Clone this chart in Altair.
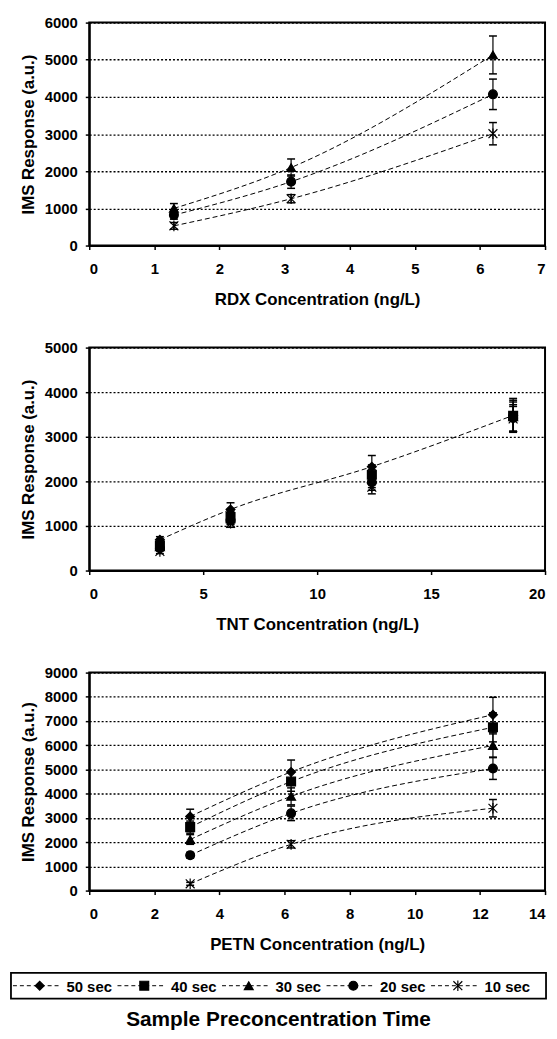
import altair as alt
import pandas as pd

# ---------------- data ----------------
series_names = ["50 sec", "40 sec", "30 sec", "20 sec", "10 sec"]

rdx_conc = [1.3, 3.1, 6.2]
rdx_30 = [1000, 2100, 5130]
rdx_30_err = [130, 230, 510]
rdx_20 = [820, 1720, 4070]
rdx_20_err = [110, 180, 410]
rdx_10 = [530, 1260, 3010]
rdx_10_err = [90, 110, 300]

tnt_conc = [3.1, 6.2, 12.4, 18.6]
tnt_50 = [690, 1370, 2330, 3480]
tnt_50_err = [70, 150, 250, 380]
tnt_40 = [560, 1200, 2150, 3470]
tnt_40_err = [60, 120, 220, 350]
tnt_30 = [530, 1160, 2060, 3450]
tnt_30_err = [60, 110, 200, 330]
tnt_20 = [500, 1130, 1980, 3420]
tnt_20_err = [50, 100, 180, 300]
tnt_10 = [430, 1060, 1870, 3400]
tnt_10_err = [50, 90, 150, 280]

petn_conc = [3.1, 6.2, 12.4]
petn_50 = [3060, 4900, 7260]
petn_50_err = [300, 490, 720]
petn_40 = [2620, 4500, 6740]
petn_40_err = [250, 400, 600]
petn_30 = [2110, 3890, 5990]
petn_30_err = [200, 350, 480]
petn_20 = [1460, 3190, 5040]
petn_20_err = [120, 300, 450]
petn_10 = [280, 1910, 3400]
petn_10_err = [60, 150, 360]

rdx_series = {"30 sec": (rdx_30, rdx_30_err), "20 sec": (rdx_20, rdx_20_err),
              "10 sec": (rdx_10, rdx_10_err)}
tnt_series = {"50 sec": (tnt_50, tnt_50_err), "40 sec": (tnt_40, tnt_40_err),
              "30 sec": (tnt_30, tnt_30_err), "20 sec": (tnt_20, tnt_20_err),
              "10 sec": (tnt_10, tnt_10_err)}
petn_series = {"50 sec": (petn_50, petn_50_err), "40 sec": (petn_40, petn_40_err),
               "30 sec": (petn_30, petn_30_err), "20 sec": (petn_20, petn_20_err),
               "10 sec": (petn_10, petn_10_err)}

rdx_lines = ["30 sec", "20 sec", "10 sec"]
tnt_lines = ["50 sec"]
petn_lines = series_names

# ---------------- styles ----------------
FONT = "Liberation Sans"
STAR = "M-1,-1L1,1M-1,1L1,-1M0,-1.2L0,1.2"
marker_shapes = ["diamond", "square", "triangle-up", "circle", STAR]
PLOT_W = 460


def make_df(conc, series):
    rows = []
    for name, (vals, errs) in series.items():
        for c, v, e in zip(conc, vals, errs):
            rows.append({"series": name, "conc": c, "resp": v,
                         "lo": v - e, "hi": v + e})
    return pd.DataFrame(rows)


def shape_enc():
    return alt.Shape("series:N",
                     scale=alt.Scale(domain=series_names, range=marker_shapes),
                     legend=None)


def panel(df, xmax, xstep, ymax, xtitle, line_series, h):
    xaxis = alt.Axis(values=list(range(0, xmax + 1, xstep)), title=xtitle,
                     grid=False, tickSize=4, labelPadding=12, titlePadding=15,
                     format="d")
    yaxis = alt.Axis(values=list(range(0, ymax + 1, 1000)),
                     title="IMS Response (a.u.)", grid=True, gridDash=[2, 2],
                     gridColor="black", gridWidth=1.3, tickSize=4,
                     labelPadding=8, titlePadding=7, format="d")
    x = alt.X("conc:Q", scale=alt.Scale(domain=[0, xmax], nice=False), axis=xaxis)
    ys = alt.Scale(domain=[0, ymax], nice=False)
    base = alt.Chart(df)
    lines = base.transform_filter(
        alt.FieldOneOfPredicate(field="series", oneOf=line_series)
    ).mark_line(strokeDash=[5, 3], color="black", strokeWidth=1,
                interpolate="monotone").encode(
        x=x, y=alt.Y("resp:Q", scale=ys, axis=yaxis), detail="series:N")
    err = base.mark_rule(color="black", strokeWidth=1.2).encode(
        x=x, y=alt.Y("lo:Q", scale=ys, axis=yaxis), y2="hi:Q")
    cap_hi = base.mark_tick(orient="horizontal", size=8, thickness=1.5,
                            color="black", opacity=1).encode(
        x=x, y=alt.Y("hi:Q", scale=ys, axis=yaxis))
    cap_lo = base.mark_tick(orient="horizontal", size=8, thickness=1.5,
                            color="black", opacity=1).encode(
        x=x, y=alt.Y("lo:Q", scale=ys, axis=yaxis))
    pts = base.mark_point(fill="black", stroke="black", strokeWidth=1.2,
                          opacity=1, fillOpacity=1, size=80).encode(
        x=x, y=alt.Y("resp:Q", scale=ys, axis=yaxis), shape=shape_enc())
    return alt.layer(lines, err, pts, cap_hi, cap_lo).properties(width=PLOT_W, height=h)


rdx = panel(make_df(rdx_conc, rdx_series), 7, 1, 6000,
            "RDX Concentration (ng/L)", rdx_lines, 225)
tnt = panel(make_df(tnt_conc, tnt_series), 20, 5, 5000,
            "TNT Concentration (ng/L)", tnt_lines, 225)
petn = panel(make_df(petn_conc, petn_series), 14, 2, 9000,
             "PETN Concentration (ng/L)", petn_lines, 220)

# ---------------- legend (strip aligned with the plots, frame spans full width) ----------------
LEG_LEFT = -79
LEG_RIGHT = PLOT_W + 1
LEG_TOP = -20
LEG_BOTTOM = 6
LEG_MID = (LEG_TOP + LEG_BOTTOM) / 2
leg_df = pd.DataFrame({"series": series_names})
lx = alt.X("series:N", sort=series_names,
           scale=alt.Scale(type="point", domain=series_names, padding=0,
                           range=[LEG_LEFT + 29, LEG_LEFT + 451]),
           axis=None)
leg_base = alt.Chart(leg_df)
leg_box = leg_base.transform_aggregate(n="count()").mark_rect(
    fillOpacity=0, stroke="black", strokeWidth=1.8).encode(
    x=alt.value(LEG_LEFT), x2=alt.value(LEG_RIGHT),
    y=alt.value(LEG_TOP), y2=alt.value(LEG_BOTTOM))
leg_line = leg_base.mark_rule(strokeDash=[4, 3], color="black", strokeWidth=1,
                              xOffset=-27, x2Offset=21).encode(
    x=lx, x2="series:N", y=alt.value(LEG_MID))
leg_pts = leg_base.mark_point(fill="black", stroke="black", strokeWidth=1.2,
                              opacity=1, fillOpacity=1, size=80).encode(
    x=lx, y=alt.value(LEG_MID), shape=shape_enc())
leg_txt = leg_base.mark_text(align="left", baseline="middle", dx=27, dy=1,
                             font=FONT, fontSize=15, fontWeight="bold",
                             color="black").encode(
    x=lx, y=alt.value(LEG_MID), text="series:N")
legend = alt.layer(leg_box, leg_line, leg_pts, leg_txt).properties(
    width=PLOT_W, height=LEG_BOTTOM,
    view=alt.ViewConfig(strokeOpacity=0))

chart = alt.vconcat(rdx, tnt, petn, legend, spacing=103, bounds="flush").properties(
    padding={"left": 2, "top": 2, "right": 2, "bottom": 0},
    title=alt.TitleParams("Sample Preconcentration Time", orient="bottom",
                          anchor="middle", font=FONT, fontSize=21,
                          fontWeight="bold", color="black", offset=10),
).configure_view(stroke="black", strokeWidth=2).configure_axis(
    domainColor="black", domainWidth=2, tickColor="black", tickWidth=1.5,
    labelFont=FONT, labelFontSize=15, labelFontWeight="bold", labelColor="black",
    titleFont=FONT, titleFontSize=17, titleFontWeight="bold", titleColor="black",
)

chart.save("out.html", embed_options={"renderer": "svg", "actions": False})
